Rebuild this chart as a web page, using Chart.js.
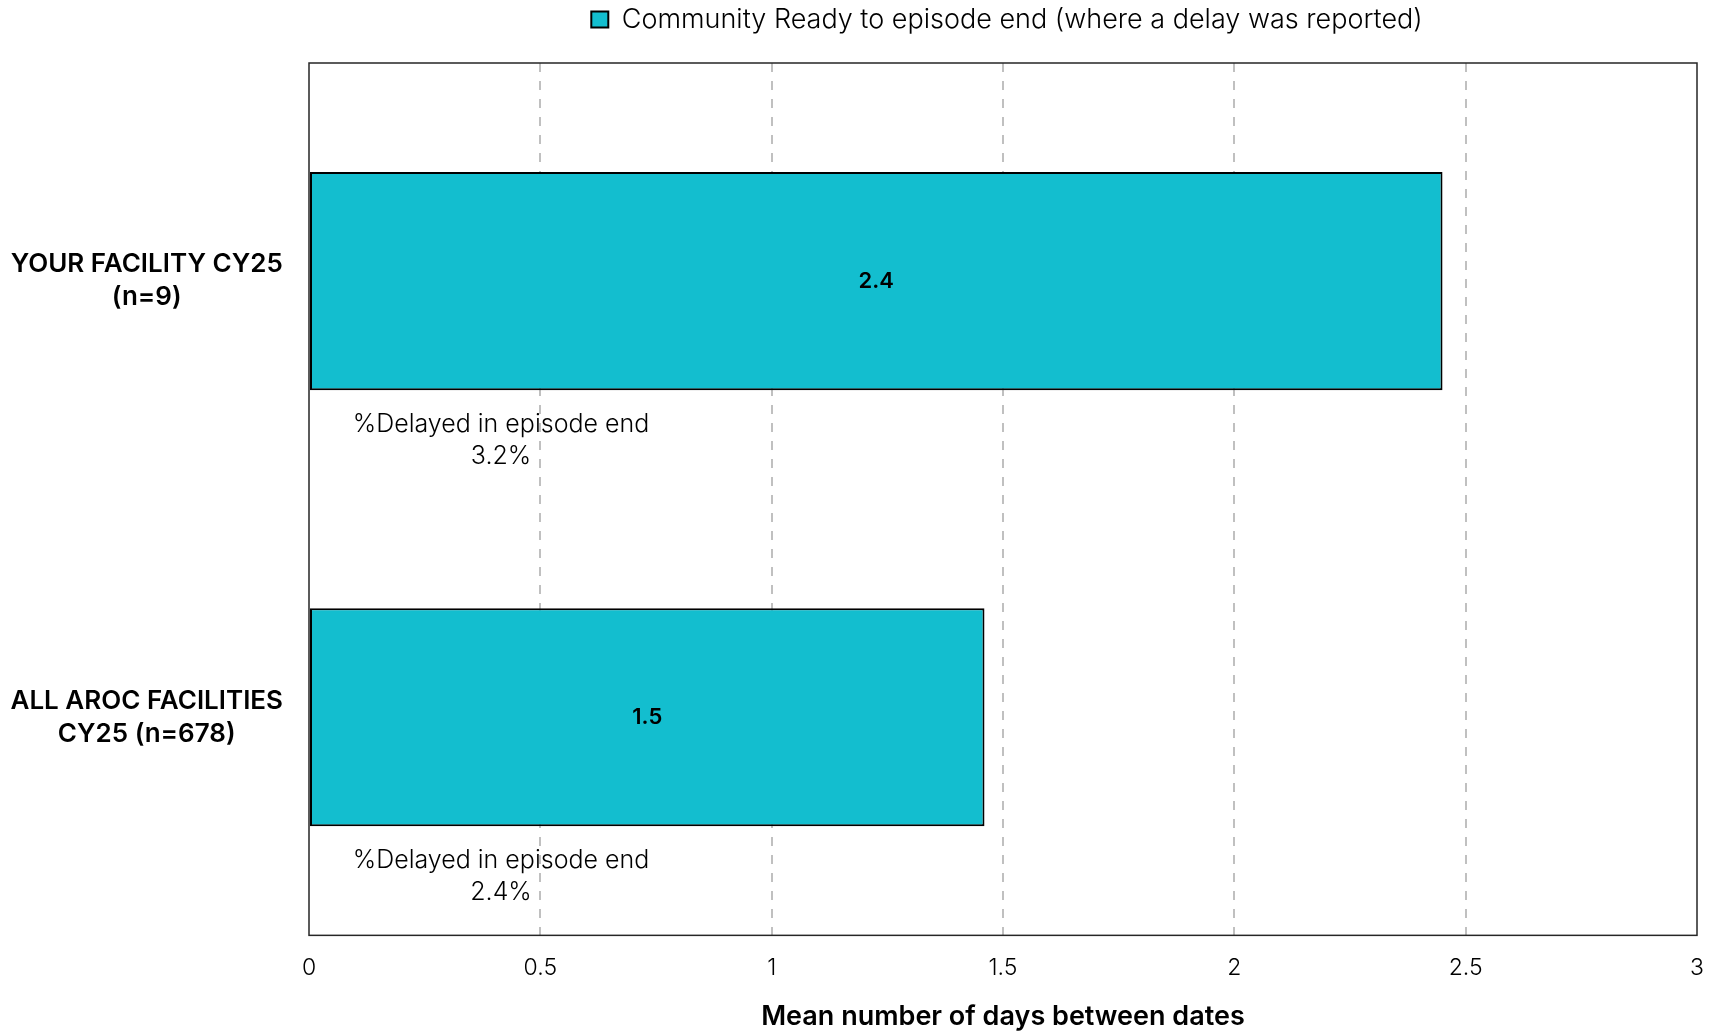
<!DOCTYPE html>
<html lang="en">
<head>
    <meta charset="UTF-8">
    <title>Community Ready to episode end</title>
    <script src="https://cdn.jsdelivr.net/npm/chart.js"></script>
    <style>
        html, body { margin: 0; padding: 0; background: #fff; }
        #wrap { width: 1715px; height: 1033px; }
    </style>
</head>
<body>
    <div id="wrap">
        <canvas id="myChart" width="1715" height="1033"></canvas>
    </div>

    <script>
        // chart data
        const categories = [['YOUR FACILITY CY25', '(n=9)'], ['ALL AROC FACILITIES', 'CY25 (n=678)']];
        const meanDays = [2.45, 1.46];
        const meanLabels = ['2.4', '1.5'];
        const delayedPct = ['3.2%', '2.4%'];
        const xTicks = [0, 0.5, 1, 1.5, 2, 2.5, 3];

        const FONT = 'Inter, "Noto Sans", sans-serif';
        const barColor = '#13BECF';

        // extra room under the legend, and legend centred on the plot area
        const legendSpace = {
            id: 'legendSpace',
            beforeInit(chart) {
                const fit = chart.legend.fit;
                chart.legend.fit = function () {
                    fit.bind(chart.legend)();
                    this.height += 20;
                };
            },
            afterLayout(chart) {
                const lg = chart.legend;
                const area = chart.chartArea;
                const shift = (area.left + area.right) / 2 - (lg.left + lg.right) / 2 + 4;
                lg.left += shift;
                lg.right += shift;
            }
        };

        // frame around the plot + text labels
        const extras = {
            id: 'extras',
            afterDatasetsDraw(chart) {
                const ctx = chart.ctx;
                const a = chart.chartArea;
                const x = chart.scales.x;
                const y = chart.scales.y;
                const meta = chart.getDatasetMeta(0);

                ctx.save();
                ctx.strokeStyle = '#262626';
                ctx.lineWidth = 1.5;
                ctx.strokeRect(a.left, a.top, a.right - a.left, a.bottom - a.top);

                ctx.fillStyle = '#000';
                ctx.textAlign = 'center';
                ctx.textBaseline = 'middle';

                // values inside the bars
                ctx.font = '600 22px ' + FONT;
                meta.data.forEach((bar, i) => {
                    ctx.fillText(meanLabels[i], (bar.base + bar.x) / 2, bar.y);
                });

                // % delayed under each bar
                ctx.font = '300 25px ' + FONT;
                const tx = x.getPixelForValue(0.415);
                delayedPct.forEach((p, i) => {
                    const cy = y.getPixelForValue(i);
                    ctx.fillText('%Delayed in episode end', tx, cy + 143);
                    ctx.fillText(p, tx, cy + 175);
                });
                ctx.restore();
            }
        };

        const data = {
            labels: categories,
            datasets: [
                {
                    label: 'Community Ready to episode end (where a delay was reported)',
                    data: meanDays,
                    backgroundColor: barColor,
                    borderColor: '#000',
                    borderWidth: 2,
                    borderSkipped: false,
                    categoryPercentage: 1.0,
                    barPercentage: 0.5
                }
            ]
        };

        const config = {
            type: 'bar',
            data: data,
            options: {
                indexAxis: 'y',
                responsive: false,
                animation: false,
                layout: { padding: { left: 0, right: 18, top: 0, bottom: 0 } },
                plugins: {
                    legend: {
                        position: 'top',
                        labels: {
                            boxWidth: 17,
                            boxHeight: 16,
                            padding: 6,
                            color: '#000',
                            font: { family: FONT, size: 27, weight: '300' }
                        }
                    },
                    tooltip: { enabled: false }
                },
                scales: {
                    x: {
                        min: 0,
                        max: 3,
                        afterBuildTicks(axis) {
                            axis.ticks = xTicks.map(v => ({ value: v }));
                        },
                        grid: {
                            color: ctx => (ctx.tick && (ctx.tick.value === 0 || ctx.tick.value === 3)) ? 'rgba(0,0,0,0)' : '#C0C0C0',
                            lineWidth: 2,
                            drawTicks: true,
                            tickLength: 16,
                            tickColor: 'rgba(0,0,0,0)'
                        },
                        border: { display: false, dash: [9, 9] },
                        ticks: {
                            padding: 3,
                            color: '#000',
                            font: { family: FONT, size: 23, weight: '300' },
                            callback: v => String(v)
                        },
                        title: {
                            display: true,
                            text: 'Mean number of days between dates',
                            color: '#000',
                            font: { family: FONT, size: 27, weight: '600', lineHeight: 1.15 },
                            padding: { top: 16, bottom: 1 }
                        }
                    },
                    y: {
                        afterFit(axis) { axis.width = 309; },
                        grid: { display: false, drawTicks: false },
                        border: { display: false },
                        ticks: {
                            padding: 26,
                            crossAlign: 'center',
                            color: '#000',
                            font: { family: FONT, size: 26, weight: '600', lineHeight: 1.27 }
                        }
                    }
                }
            },
            plugins: [legendSpace, extras]
        };

        const ctx = document.getElementById('myChart').getContext('2d');
        const chart = new Chart(ctx, config);
    </script>
</body>
</html>
